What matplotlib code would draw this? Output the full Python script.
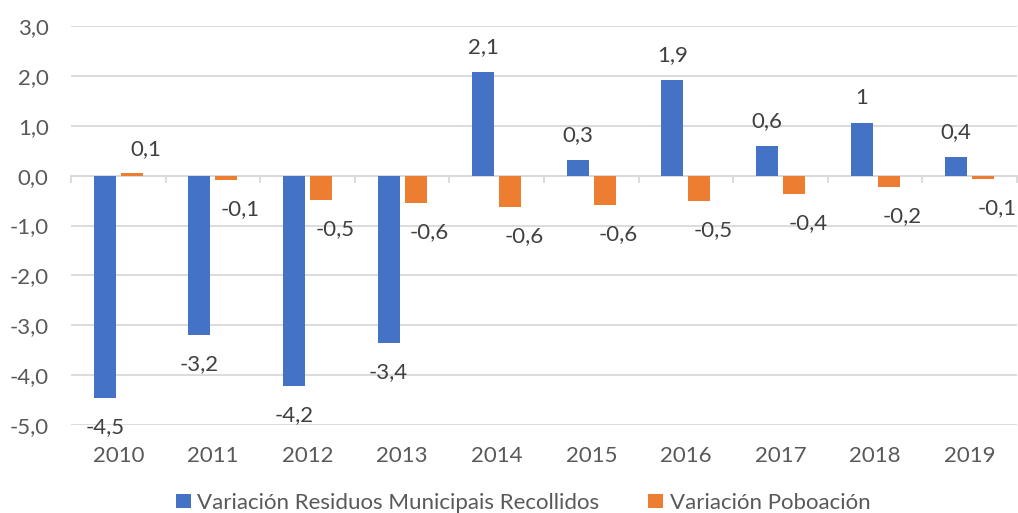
import matplotlib.pyplot as plt
import numpy as np

years = ["2010", "2011", "2012", "2013", "2014", "2015", "2016", "2017", "2018", "2019"]
residuos = [-4.45, -3.2, -4.21, -3.35, 2.08, 0.32, 1.92, 0.6, 1.05, 0.38]
poboacion = [0.05, -0.08, -0.49, -0.54, -0.62, -0.59, -0.5, -0.37, -0.23, -0.07]
residuos_labels = ["-4,5", "-3,2", "-4,2", "-3,4", "2,1", "0,3", "1,9", "0,6", "1", "0,4"]
poboacion_labels = ["0,1", "-0,1", "-0,5", "-0,6", "-0,6", "-0,6", "-0,5", "-0,4", "-0,2", "-0,1"]

blue = "#4472C4"
orange = "#ED7D31"
grid_col = "#D9D9D9"

plt.rcParams["font.family"] = ["Lato", "DejaVu Sans"]

fig = plt.figure(figsize=(10.18, 5.13), dpi=100)
ax = fig.add_axes([0.0697, 0.1715, 0.9293, 0.7778])

x = np.arange(len(years))
w = 0.232
off = 0.143
ax.bar(x - off, residuos, w, color=blue, zorder=3, label="Variación Residuos Municipais Recollidos")
ax.bar(x + off, poboacion, w, color=orange, zorder=3, label="Variación Poboación")

# data labels
for xi, v, lab in zip(x, residuos, residuos_labels):
    dy = 18 if v >= 0 else -21
    ax.annotate(lab, (xi - off, v), xytext=(0, dy), textcoords="offset points",
                ha="center", va="center", fontsize=16, color="#404040")
for xi, v, lab in zip(x, poboacion, poboacion_labels):
    dy = 17 if v >= 0 else -21
    ax.annotate(lab, (xi + off, v), xytext=(10, dy), textcoords="offset points",
                ha="center", va="center", fontsize=16, color="#404040")

ax.set_xlim(-0.5, len(years) - 0.5)
ax.set_ylim(-5, 3)
ax.set_yticks(np.arange(-5, 4, 1))
ax.set_yticklabels([f"{t:.1f}".replace(".", ",") for t in np.arange(-5, 4, 1)])
ax.tick_params(axis="y", length=0, pad=16, labelsize=16, labelcolor="#595959")
ax.yaxis.grid(True, color=grid_col, linewidth=1.3, zorder=0)

for s in ["top", "right", "left"]:
    ax.spines[s].set_visible(False)
ax.spines["bottom"].set_position(("data", 0))
ax.spines["bottom"].set_color(grid_col)
ax.spines["bottom"].set_linewidth(1.3)
ax.spines["bottom"].set_zorder(2)
ax.set_xticks(np.arange(len(years) + 1) - 0.5)
ax.set_xticklabels([])
ax.tick_params(axis="x", length=5, width=1.3, color=grid_col, direction="out")

sec = ax.secondary_xaxis(0)
sec.set_xticks(x)
sec.set_xticklabels(years)
sec.tick_params(length=0, pad=15, labelsize=16, labelcolor="#595959")
sec.spines["bottom"].set_visible(False)

fig.legend(loc="center", bbox_to_anchor=(0.514, 0.02), ncol=2, frameon=False,
           fontsize=16, labelcolor="#595959", handlelength=0.65, handleheight=0.65,
           handletextpad=0.3, columnspacing=2.2)

fig.savefig("out.png", dpi=100)
